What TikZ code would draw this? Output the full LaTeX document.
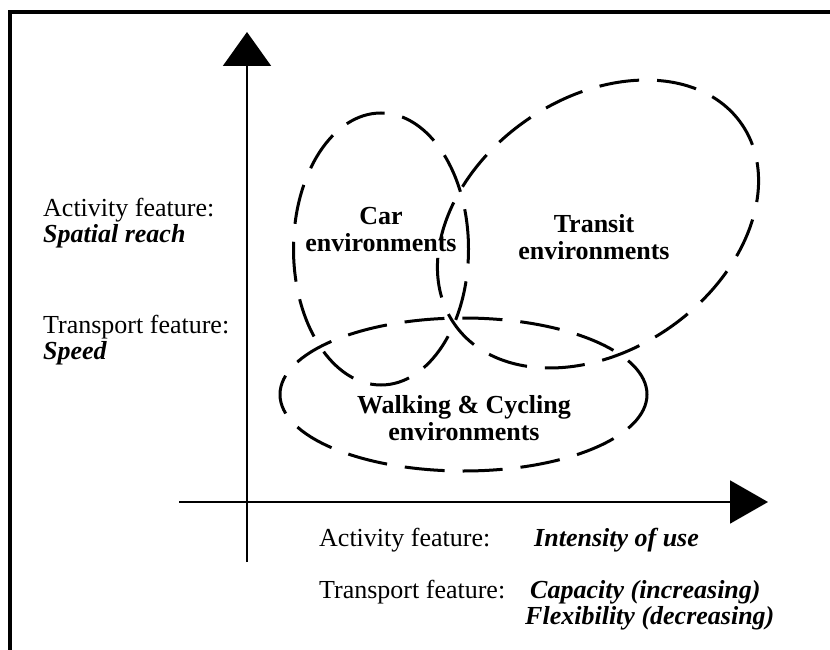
\documentclass[tikz,border=0pt]{standalone}
\usepackage{fontspec}
\setmainfont{Liberation Serif}
\usetikzlibrary{arrows.meta}
\begin{document}
\begin{tikzpicture}[x=1pt,y=1pt,
  frame/.style={line width=4.5pt},
  axis/.style={line width=2pt},
  envline/.style={line width=3pt, dash pattern=on 40pt off 18pt},
  envlabel/.style={font=\fontsize{26}{27}\selectfont\bfseries, align=center, inner sep=0pt},
  featlabel/.style={font=\fontsize{26}{26}\selectfont, align=left, inner sep=0pt, anchor=west},
  featval/.style={font=\fontsize{26}{26}\selectfont\bfseries\itshape, align=left, inner sep=0pt, anchor=west}]
\useasboundingbox (0,0) rectangle (830,-650);
% frame
\draw[frame] (832,-12) -- (10,-12) -- (10,-652);
% axes
\coordinate (yb) at (247,-562);
\coordinate (yt) at (247,-32);
\coordinate (xl) at (179,-502);
\coordinate (xr) at (768,-502);
\draw[axis,-{Triangle[length=34pt,width=48pt]}] (yb) -- (yt);
\draw[axis,-{Triangle[length=38pt,width=43pt]}] (xl) -- (xr);
% environments
\draw[envline] (381,-249) ellipse [x radius=87.5, y radius=136];
\draw[envline, rotate around={35:(598,-224)}] (598,-224) ellipse [x radius=175, y radius=126];
\draw[envline] (463.5,-394.5) ellipse [x radius=183.5, y radius=76.5];
\node[envlabel] (car) at (381,-230) {Car\\environments};
\node[envlabel] (transit) at (594,-237) {Transit\\environments};
\node[envlabel] (walk) at (464,-418) {Walking \& Cycling\\environments};
% y-axis labels
\node[featlabel] (actY) at (43,-223) {Activity feature:\\\textbf{\textit{Spatial reach}}};
\node[featlabel] (trY) at (43,-340) {Transport feature:\\\textbf{\textit{Speed}}};
% x-axis labels
\node[featlabel] (actX) at (319,-540) {Activity feature:};
\node[featval] (actXv) at (534,-540) {Intensity of use};
\node[featlabel] (trX) at (319,-592) {Transport feature:};
\node[featval] (trXv1) at (530,-592) {Capacity (increasing)};
\node[featval] (trXv2) at (525,-618) {Flexibility (decreasing)};
\end{tikzpicture}
\end{document}
